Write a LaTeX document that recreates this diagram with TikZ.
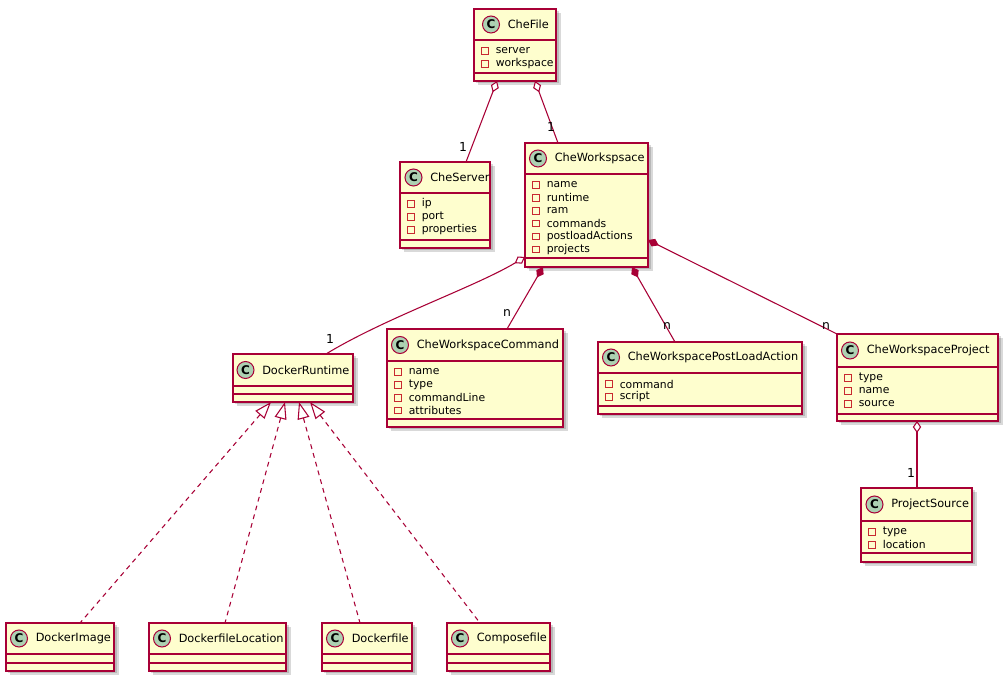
\documentclass[tikz,border=0pt]{standalone}
\usepackage{fontspec}
\setmainfont{DejaVu Sans}
\usetikzlibrary{calc,arrows.meta}
\definecolor{umlred}{HTML}{A80036}
\definecolor{umlyellow}{HTML}{FEFECE}
\definecolor{umlgreen}{HTML}{ADD1B2}
\definecolor{fieldred}{HTML}{C82930}
\tikzset{
  classbox/.style={rectangle, draw=umlred, fill=umlyellow, line width=1.1pt, inner sep=0pt, outer sep=0pt},
  boxline/.style={draw=umlred, line width=1.1pt},
  cicon/.style={circle, fill=umlgreen, draw=umlred, line width=0.75pt, minimum size=12.75pt, inner sep=0pt, font=\bfseries\fontsize{9}{9}\selectfont},
  ctitle/.style={anchor=west, inner sep=0pt, font=\fontsize{8.5}{10}\selectfont},
  ftext/.style={anchor=west, inner sep=0pt, font=\fontsize{8.1}{9}\selectfont},
  fsq/.style={rectangle, draw=fieldred, line width=0.6pt, minimum size=4.8pt, inner sep=0pt},
  mult/.style={inner sep=0pt, font=\fontsize{9.3}{10}\selectfont},
  shadowfill/.style={fill=black, opacity=0.15},
  assoc/.style={draw=umlred, line width=0.8pt},
  aggr/.style={assoc, {Diamond[length=9pt,width=6.3pt,fill=white]}-},
  comp/.style={assoc, {Diamond[length=9pt,width=6.3pt,fill=umlred]}-},
  realiz/.style={assoc, dash pattern=on 3.6pt off 3.2pt, {Triangle[length=12.75pt,width=9pt,fill=white]}-},
}
% #1 id, #2 left, #3 top, #4 right, #5 bottom, #6 header line, #7 separator, #8 title, #9 circle offset
\newcommand\umlclass[9]{%
  \fill[shadowfill] (#2+2,#3+2) rectangle (#4+2.5,#5+2.5);
  \fill[shadowfill] (#2+4,#3+4) rectangle (#4+4.5,#5+4.5);
  \node[classbox, anchor=north west, minimum width={(#4-#2)*0.75pt}, minimum height={(#5-#3)*0.75pt}] (#1) at (#2,#3) {};
  \draw[boxline] (#2,#6) -- (#4,#6);
  \draw[boxline] (#2,#7) -- (#4,#7);
  \node[cicon] (#1-c) at (#2+#9,{(#3+#6)/2}) {C};
  \node[ctitle] (#1-t) at (#2+#9+16.5,{(#3+#6)/2}) {#8};
}
% #1 id, #2 left, #3 header line, #4 list
\newcommand\umlfields[4]{%
  \foreach \f [count=\i] in {#4} {
    \node[fsq] (#1-s\i) at (#2+11,{#3+11+12.9*(\i-1)}) {};
    \node[ftext] (#1-f\i) at (#2+21.5,{#3+11+12.9*(\i-1)}) {\f};
  }
}
\begin{document}
\begin{tikzpicture}[x=0.75pt,y=-0.75pt]
\useasboundingbox (0,0) rectangle (1004,680);
\fill[white] (0,0) rectangle (1004,680);

\umlclass{CheFile}{474}{9}{556}{81}{40}{73}{CheFile}{17}
\umlfields{CheFile}{474}{40}{server,workspace}

\umlclass{CheServer}{400}{162}{490}{248}{193}{240}{CheServer}{13.5}
\umlfields{CheServer}{400}{193}{ip,port,properties}

\umlclass{CheWorkspsace}{525}{143}{648}{267}{174}{258}{CheWorkspsace}{13}
\umlfields{CheWorkspsace}{525}{174}{name,runtime,ram,commands,postloadActions,projects}

\umlclass{DockerRuntime}{233}{354}{353}{402}{386}{394}{DockerRuntime}{12.5}

\umlclass{CheWorkspaceCommand}{387}{329}{563}{427}{361}{419}{CheWorkspaceCommand}{13}
\umlfields{CheWorkspaceCommand}{387}{361}{name,type,commandLine,attributes}

\umlclass{CheWorkspacePostLoadAction}{598}{342}{802}{414}{373}{406}{CheWorkspacePostLoadAction}{13}
\umlfields{CheWorkspacePostLoadAction}{598}{373}{command,script}

\umlclass{CheWorkspaceProject}{837}{334}{998}{421}{367}{414}{CheWorkspaceProject}{13}
\umlfields{CheWorkspaceProject}{837}{367}{type,name,source}

\umlclass{ProjectSource}{861}{488}{972}{562}{521}{553}{ProjectSource}{13.5}
\umlfields{ProjectSource}{861}{521}{type,location}

\umlclass{DockerImage}{6}{623}{114}{671}{654}{663}{DockerImage}{13}
\umlclass{DockerfileLocation}{149}{623}{286}{671}{654}{663}{DockerfileLocation}{13}
\umlclass{Dockerfile}{322}{623}{412}{671}{654}{663}{Dockerfile}{13}
\umlclass{Composefile}{447}{623}{550}{671}{654}{663}{Composefile}{13}

% associations
\draw[aggr] ($(CheFile.south west)+(23,0)$) -- ($(CheServer.north west)+(66,0)$);
\draw[aggr] ($(CheFile.south west)+(61,0)$) -- ($(CheWorkspsace.north west)+(33,0)$);
\draw[aggr] ($(CheWorkspsace.south west)+(0,-10)$) .. controls (475,287) and (385,318) .. ($(DockerRuntime.north west)+(93,0)$);
\draw[comp] ($(CheWorkspsace.south west)+(18,0)$) -- ($(CheWorkspaceCommand.north west)+(120,0)$);
\draw[comp] ($(CheWorkspsace.south west)+(107,0)$) -- ($(CheWorkspacePostLoadAction.north west)+(77,0)$);
\draw[comp] ($(CheWorkspsace.south east)+(0,-27)$) -- (CheWorkspaceProject.north west);
\draw[aggr] ($(CheWorkspaceProject.south west)+(80,0)$) -- ($(ProjectSource.north west)+(56,0)$);

% realizations
\draw[realiz] ($(DockerRuntime.south west)+(38,0)$) -- ($(DockerImage.north west)+(74,0)$);
\draw[realiz] ($(DockerRuntime.south west)+(52,0)$) -- ($(DockerfileLocation.north west)+(76,0)$);
\draw[realiz] ($(DockerRuntime.south west)+(66,0)$) -- ($(Dockerfile.north west)+(38,0)$);
\draw[realiz] ($(DockerRuntime.south west)+(77,0)$) -- ($(Composefile.north west)+(33,0)$);

% multiplicities
\node[mult] (m1) at (463,147) {1};
\node[mult] (m2) at (551,127) {1};
\node[mult] (m3) at (330,339) {1};
\node[mult] (m4) at (507,313) {n};
\node[mult] (m5) at (667,326) {n};
\node[mult] (m6) at (826,326) {n};
\node[mult] (m7) at (911,473) {1};
\end{tikzpicture}
\end{document}
